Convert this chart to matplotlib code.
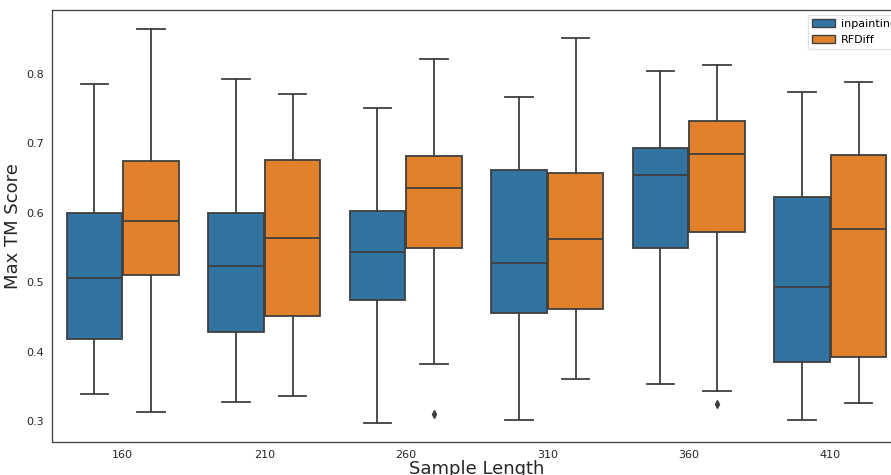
import numpy as np
import matplotlib
matplotlib.use("Agg")
import matplotlib.pyplot as plt
from matplotlib.patches import Patch

# values
lengths = ["160", "210", "260", "310", "360", "410"]
methods = ["inpainting", "RFDiff"]

inp_low = [0.339, 0.328, 0.298, 0.302, 0.353, 0.301]
inp_q1 = [0.418, 0.429, 0.474, 0.455, 0.549, 0.385]
inp_med = [0.506, 0.523, 0.543, 0.527, 0.654, 0.493]
inp_q3 = [0.600, 0.599, 0.602, 0.661, 0.693, 0.623]
inp_high = [0.785, 0.793, 0.751, 0.767, 0.804, 0.774]
inp_out = [[], [], [], [], [], []]

rf_low = [0.313, 0.336, 0.383, 0.361, 0.344, 0.326]
rf_q1 = [0.510, 0.452, 0.549, 0.462, 0.572, 0.392]
rf_med = [0.588, 0.564, 0.636, 0.562, 0.685, 0.576]
rf_q3 = [0.674, 0.676, 0.682, 0.658, 0.732, 0.683]
rf_high = [0.864, 0.771, 0.822, 0.852, 0.813, 0.788]
rf_out = [[], [], [0.311], [], [0.325], []]

colors = ["#3274a1", "#e1812c"]
edge = "#3f3f3f"
text_col = "#262626"


def make_stats(low, q1, med, q3, high, out):
    return [dict(whislo=a, q1=b, med=c, q3=d, whishi=e, fliers=f)
            for a, b, c, d, e, f in zip(low, q1, med, q3, high, out)]


fig = plt.figure(figsize=(8.91, 4.75), dpi=100)
ax = fig.add_axes([0.0584, 0.0695, 0.9528, 0.9095])

x = np.arange(len(lengths))
groups = [
    make_stats(inp_low, inp_q1, inp_med, inp_q3, inp_high, inp_out),
    make_stats(rf_low, rf_q1, rf_med, rf_q3, rf_high, rf_out),
]
offsets = [-0.2, 0.2]

for stats, off, col in zip(groups, offsets, colors):
    ax.bxp(stats, positions=x + off, widths=0.392, patch_artist=True,
           manage_ticks=False,
           boxprops=dict(facecolor=col, edgecolor=edge, linewidth=1.3),
           medianprops=dict(color=edge, linewidth=1.3),
           whiskerprops=dict(color=edge, linewidth=1.3),
           capprops=dict(color=edge, linewidth=1.3),
           flierprops=dict(marker="d", markersize=4, markerfacecolor=edge,
                           markeredgecolor=edge))

ax.set_xlim(-0.5, len(lengths) - 0.5)
ax.set_ylim(0.270, 0.892)
ax.set_xticks(x)
ax.set_xticklabels(lengths)
ax.set_yticks([0.3, 0.4, 0.5, 0.6, 0.7, 0.8])
ax.set_yticklabels(["0.3", "0.4", "0.5", "0.6", "0.7", "0.8"])
ax.tick_params(length=0, labelsize=8, labelcolor=text_col, pad=6)
for s in ax.spines.values():
    s.set_color(edge)
    s.set_linewidth(0.9)

ax.set_xlabel("Sample Length", fontsize=13, color=text_col, labelpad=0)
ax.set_ylabel("Max TM Score", fontsize=13, color=text_col, labelpad=3)

handles = [Patch(facecolor=c, edgecolor=edge, linewidth=1.0, label=m)
           for c, m in zip(colors, methods)]
ax.legend(handles=handles, loc="upper right", bbox_to_anchor=(1.005, 0.997),
          fontsize=8, frameon=True, edgecolor="#dddddd", fancybox=False,
          borderaxespad=0.3, handletextpad=0.6)

fig.savefig("out.png", dpi=100)
